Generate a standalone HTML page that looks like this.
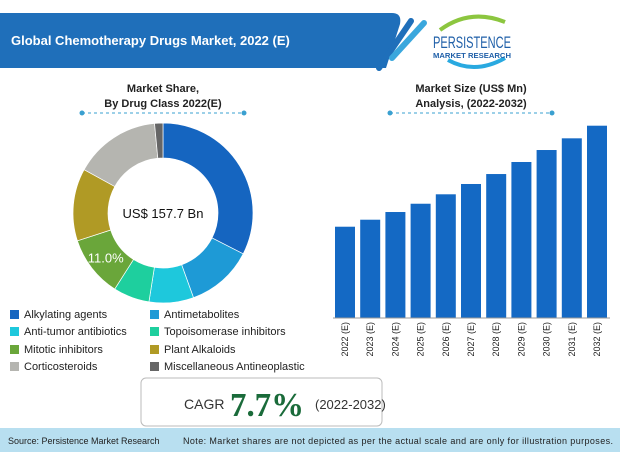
<!DOCTYPE html>
<html><head><meta charset="utf-8"><style>
body{margin:0;width:620px;height:452px;overflow:hidden;background:#fff;font-family:"Liberation Sans",sans-serif;position:relative}
.abs{position:absolute}
.leg{position:absolute;font-size:11px;color:#222;white-space:nowrap}
.leg i{display:inline-block;width:9px;height:9px;margin-right:5px;vertical-align:-1px}
</style></head><body>
<svg class="abs" style="left:0;top:0" width="620" height="452">
 <path d="M0 13 H392 Q402 13 400 24 L386 68 H0 Z" fill="#1f6fba"/>
 <line x1="379" y1="68" x2="411" y2="21" stroke="#1f6fba" stroke-width="6" stroke-linecap="round"/>
 <line x1="392" y1="58" x2="424" y2="23" stroke="#3aa7dd" stroke-width="6" stroke-linecap="round"/>
 <text x="11" y="45" fill="#fff" font-size="13" font-weight="bold">Global Chemotherapy Drugs Market, 2022 (E)</text>
 <g>
  <path d="M440 30 Q470 8 505 22" stroke="#8cc63f" stroke-width="4" fill="none"/>
  <path d="M448 60 Q475 75 505 58" stroke="#29a9e0" stroke-width="4" fill="none"/>
  <text x="433" y="48" font-size="17" fill="#1f5fa8" textLength="78" lengthAdjust="spacingAndGlyphs">PERSISTENCE</text>
  <text x="433" y="58" font-size="7" font-weight="bold" fill="#1f5fa8" textLength="78" lengthAdjust="spacingAndGlyphs">MARKET RESEARCH</text>
 </g>
 <text x="163" y="92" text-anchor="middle" font-size="11" font-weight="bold" fill="#222">Market Share,</text>
 <text x="163" y="107" text-anchor="middle" font-size="11" font-weight="bold" fill="#222">By Drug Class  2022(E)</text>
 <text x="471" y="92" text-anchor="middle" font-size="11" font-weight="bold" fill="#222">Market Size (US$ Mn)</text>
 <text x="471" y="107" text-anchor="middle" font-size="11" font-weight="bold" fill="#222">Analysis, (2022-2032)</text>
 <line x1="82" y1="113" x2="244" y2="113" stroke="#3aa0d0" stroke-dasharray="3,3"/>
 <circle cx="82" cy="113" r="2.5" fill="#3aa0d0"/><circle cx="244" cy="113" r="2.5" fill="#3aa0d0"/>
 <line x1="390" y1="113" x2="552" y2="113" stroke="#3aa0d0" stroke-dasharray="3,3"/>
 <circle cx="390" cy="113" r="2.5" fill="#3aa0d0"/><circle cx="552" cy="113" r="2.5" fill="#3aa0d0"/>
 <g id="donut"></g>
 <text x="163" y="218" text-anchor="middle" font-size="13" fill="#111">US$ 157.7 Bn</text>
 <g id="bars"></g>
 <rect x="141" y="378" width="241" height="48" rx="5" fill="#fff" stroke="#bbb"/>
 <text x="184" y="409" font-size="14" fill="#333">CAGR</text>
 <text x="230" y="416" font-size="34" font-weight="bold" fill="#1a6b3a" font-family="Liberation Serif,serif" textLength="74" lengthAdjust="spacingAndGlyphs">7.7%</text>
 <text x="315" y="409" font-size="13" fill="#333">(2022-2032)</text>
 <rect x="0" y="428" width="620" height="24" fill="#b8dff0"/>
 <text x="8" y="444" font-size="9" fill="#222">Source: Persistence Market Research</text>
 <text x="183" y="444" font-size="9" fill="#222" textLength="430">Note: Market shares are not depicted as per the actual scale and are only for illustration purposes.</text>
</svg>
<div class="leg" style="left:10px;top:309px"><i style="background:#1565c0"></i>Alkylating agents</div>
<div class="leg" style="left:150px;top:309px"><i style="background:#1e9ad6"></i>Antimetabolites</div>
<div class="leg" style="left:10px;top:326px"><i style="background:#1ec8dc"></i>Anti-tumor antibiotics</div>
<div class="leg" style="left:150px;top:326px"><i style="background:#1ecf9e"></i>Topoisomerase inhibitors</div>
<div class="leg" style="left:10px;top:344px"><i style="background:#6aa63a"></i>Mitotic inhibitors</div>
<div class="leg" style="left:150px;top:344px"><i style="background:#b09a25"></i>Plant Alkaloids</div>
<div class="leg" style="left:10px;top:361px"><i style="background:#b5b5b0"></i>Corticosteroids</div>
<div class="leg" style="left:150px;top:361px"><i style="background:#666"></i>Miscellaneous Antineoplastic</div>
<script>
const sliceNames=["Alkylating agents","Antimetabolites","Anti-tumor antibiotics","Topoisomerase inhibitors","Mitotic inhibitors","Plant Alkaloids","Corticosteroids","Miscellaneous Antineoplastic"];
const sliceValues=[32.5,12,8,6.5,11,13,15.5,1.5];
const sliceColors=["#1565c0","#1e9ad6","#1ec8dc","#1ecf9e","#6aa63a","#b09a25","#b5b5b0","#666"];
const years=["2022 (E)","2023 (E)","2024 (E)","2025 (E)","2026 (E)","2027 (E)","2028 (E)","2029 (E)","2030 (E)","2031 (E)","2032 (E)"];
const marketValues=[157.7,169.8,183.1,197.4,213.7,231.5,248.7,269.5,290.2,310.4,332.2];
const NS="http://www.w3.org/2000/svg";
(function(){
 const g=document.getElementById('donut');const cx=163,cy=213,R=90,r=55;
 const tot=sliceValues.reduce((a,b)=>a+b,0);let a0=0;
 const pt=(a,rad)=>[cx+rad*Math.sin(a),cy-rad*Math.cos(a)];
 sliceValues.forEach((v,i)=>{
  const a1=a0+v/tot*2*Math.PI;const L=(a1-a0)>Math.PI?1:0;
  const p1=pt(a0,R),p2=pt(a1,R),p3=pt(a1,r),p4=pt(a0,r);
  const p=document.createElementNS(NS,'path');
  p.setAttribute('d',`M${p1} A${R} ${R} 0 ${L} 1 ${p2} L${p3} A${r} ${r} 0 ${L} 0 ${p4}Z`);
  p.setAttribute('fill',sliceColors[i]);p.setAttribute('stroke','#fff');p.setAttribute('stroke-width','0.7');
  
  
  g.appendChild(p);
  if(i===4){const m=(a0+a1)/2,q=pt(m,(R+r)/2);const t=document.createElementNS(NS,'text');
   t.setAttribute('x',q[0]);t.setAttribute('y',q[1]+5);t.setAttribute('text-anchor','middle');t.setAttribute('fill','#fff');t.setAttribute('font-size','13');
   t.textContent=v.toFixed(1)+'%';
   
   
   g.appendChild(t);}
  a0=a1;});
})();
(function(){
 const g=document.getElementById('bars');const base=318,H=202.6,yMax=350,x0=335,step=25.2,bw=20;
 const y=v=>base-v/yMax*H;
 years.forEach((yr,i)=>{
  const b=document.createElementNS(NS,'rect');const x=x0+i*step;
  b.setAttribute('x',x);b.setAttribute('y',y(marketValues[i]));b.setAttribute('width',bw);b.setAttribute('height',base-y(marketValues[i]));b.setAttribute('fill','#1469c4');
  
  
  g.appendChild(b);
  const t=document.createElementNS(NS,'text');const tx=x+bw/2+3,ty=322;
  t.setAttribute('transform',`translate(${tx},${ty}) rotate(-90)`);t.setAttribute('text-anchor','end');t.setAttribute('font-size','9');t.setAttribute('fill','#222');
  t.textContent=yr;
  
  
  g.appendChild(t);});
 const l=document.createElementNS(NS,'line');l.setAttribute('x1',333);l.setAttribute('x2',610);l.setAttribute('y1',base);l.setAttribute('y2',base);l.setAttribute('stroke','#999');
 
 
 g.appendChild(l);
})();
</script>
</body></html>
